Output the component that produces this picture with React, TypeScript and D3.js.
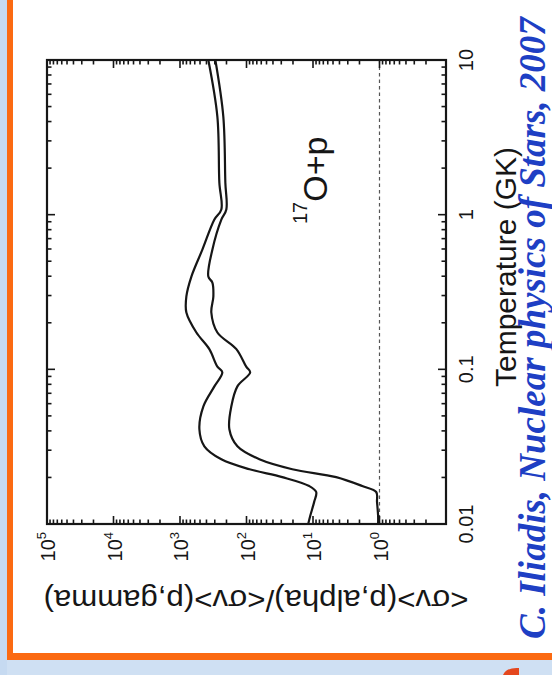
import React from 'react';
import * as d3 from 'd3';

const W = 552;
const H = 675;

// Temperature (GK) and <σv>(p,α)/<σv>(p,γ) for the two bounding curves
const tempUpper = [0.01, 0.0113, 0.0139, 0.0161, 0.0176, 0.0201, 0.0226, 0.0262, 0.0318, 0.041, 0.0577, 0.0776, 0.0957, 0.104, 0.135, 0.173, 0.233, 0.296, 0.398, 0.594, 0.93, 1.08, 1.61, 4.29, 10];
const ratioUpper = [11.8, 11.0, 9.6, 8.95, 11.4, 29, 90, 239, 430, 511, 445, 304, 231, 274, 362, 567, 802, 802, 674, 461, 304, 239, 256, 274, 375];

const tempLower = [0.01, 0.0113, 0.0139, 0.0161, 0.0176, 0.0201, 0.0226, 0.0262, 0.0318, 0.041, 0.0577, 0.0776, 0.0957, 0.104, 0.135, 0.173, 0.233, 0.296, 0.364, 0.398, 0.594, 0.93, 1.08, 1.61, 4.29, 10];
const ratioLower = [1.05, 1.05, 1.09, 1.12, 1.82, 4.48, 20.5, 64, 137, 181, 169, 137, 88, 101, 142, 274, 338, 315, 326, 375, 326, 239, 201, 208, 223, 294];

// Axis labels
const tempTickValues = [0.01, 0.1, 1, 10];
const tempTickLabels = ['0.01', '0.1', '1', '10'];
const ratioExponents = [0, 1, 2, 3, 4, 5];

const ORANGE = '#fb6a12';
const INK = '#161616';

export default function App() {
  React.useEffect(() => {
    document.body.style.margin = '0';
  }, []);

  // Rotated layout: ratio runs horizontally (high on the left), temperature runs upward
  const rScale = d3.scaleLog().domain([0.1, 1e5]).range([446, 47]);
  const tScale = d3.scaleLog().domain([0.01, 10]).range([524, 60]);

  const line = d3
    .line<[number, number]>()
    .x((d) => rScale(d[1]))
    .y((d) => tScale(d[0]))
    .curve(d3.curveCatmullRom.alpha(0.5));

  const upper: [number, number][] = tempUpper.map((t, i) => [t, ratioUpper[i]]);
  const lower: [number, number][] = tempLower.map((t, i) => [t, ratioLower[i]]);

  const isMajor = (v: number) => Math.abs(Math.log10(v) - Math.round(Math.log10(v))) < 1e-6;
  const rTicks = rScale.ticks().filter((v) => v > 0.1 * 1.0001 && v < 1e5 * 0.9999);
  const tTicks = tScale.ticks().filter((v) => v > 0.01 * 1.0001 && v < 10 * 0.9999);

  const [x0, x1] = [47, 446];
  const [y0, y1] = [60, 524];
  const MAJ = 8;
  const MIN = 4.5;

  return (
    <svg
      width={W}
      height={H}
      style={{ position: 'absolute', left: 0, top: 0, display: 'block' }}
      fontFamily="'Liberation Sans', Arial, Helvetica, sans-serif"
    >
      {/* slide background and frame */}
      <rect x={0} y={0} width={W} height={H} fill="#cfe0f3" />
      <rect x={0} y={0} width={7} height={H} fill="#c6daf1" />
      <rect x={13} y={0} width={W - 13} height={653} fill="#ffffff" />
      <rect x={7} y={0} width={6} height={660} fill={ORANGE} />
      <rect x={7} y={653} width={W - 7} height={7} fill={ORANGE} />
      <path d="M503,675 Q507,667 519,668 L519,675 Z" fill="#e4471e" />

      {/* reference line at ratio = 1 */}
      <line
        x1={rScale(1)}
        x2={rScale(1)}
        y1={y0}
        y2={y1}
        stroke="#555"
        strokeWidth={1.2}
        strokeDasharray="3.5 3"
      />

      {/* ticks along the ratio edges */}
      {rTicks.map((v, i) => {
        const x = rScale(v);
        const len = isMajor(v) ? MAJ : MIN;
        return (
          <g key={'r' + i} stroke={INK} strokeWidth={1.6}>
            <line x1={x} x2={x} y1={y0} y2={y0 + len} />
            <line x1={x} x2={x} y1={y1} y2={y1 - len} />
          </g>
        );
      })}
      {/* ticks along the temperature edges */}
      {tTicks.map((v, i) => {
        const y = tScale(v);
        const len = isMajor(v) ? MAJ : MIN;
        return (
          <g key={'t' + i} stroke={INK} strokeWidth={1.6}>
            <line x1={x0} x2={x0 + len} y1={y} y2={y} />
            <line x1={x1} x2={x1 - len} y1={y} y2={y} />
          </g>
        );
      })}

      <rect x={x0} y={y0} width={x1 - x0} height={y1 - y0} fill="none" stroke={INK} strokeWidth={2.2} />

      {/* rate ratio bounds */}
      <path d={line(upper) || ''} fill="none" stroke={INK} strokeWidth={2.2} strokeLinejoin="round" />
      <path d={line(lower) || ''} fill="none" stroke={INK} strokeWidth={2.2} strokeLinejoin="round" />

      {/* temperature tick labels */}
      {tempTickValues.map((v, i) => (
        <text
          key={'tl' + i}
          transform={`translate(473,${tScale(v)}) rotate(-90)`}
          textAnchor="middle"
          fontSize={20}
          fill={INK}
        >
          {tempTickLabels[i]}
        </text>
      ))}

      {/* ratio tick labels */}
      {ratioExponents.map((e) => (
        <text
          key={'rl' + e}
          transform={`translate(${rScale(Math.pow(10, e)) + 8},532) rotate(-90)`}
          textAnchor="end"
          fontSize={20}
          fill={INK}
        >
          <tspan>10</tspan>
          <tspan fontSize={13} dy={-9}>
            {e}
          </tspan>
        </text>
      ))}

      {/* axis titles */}
      <text
        transform="translate(516,267) rotate(-90)"
        textAnchor="middle"
        fontSize={30}
        fill={INK}
      >
        Temperature (GK)
      </text>
      <text
        transform="translate(256,590) rotate(180)"
        textAnchor="middle"
        fontSize={30}
        fill={INK}
        textLength={425}
        lengthAdjust="spacingAndGlyphs"
      >
        {'<σv>(p,alpha)/<σv>(p,gamma)'}
      </text>

      {/* reaction label */}
      <text transform="translate(327,224) rotate(-90)" fill={INK}>
        <tspan fontSize={20} dy={-20}>
          17
        </tspan>
        <tspan fontSize={34} dy={20}>
          O+p
        </tspan>
      </text>

      {/* citation */}
      <text
        transform="translate(545,639) rotate(-90)"
        fontFamily="'Liberation Serif', 'Times New Roman', serif"
        fontStyle="italic"
        fontWeight="bold"
        fontSize={37}
        fill="#1e3fc4"
      >
        C. Iliadis, Nuclear physics of Stars, 2007
      </text>
    </svg>
  );
}
